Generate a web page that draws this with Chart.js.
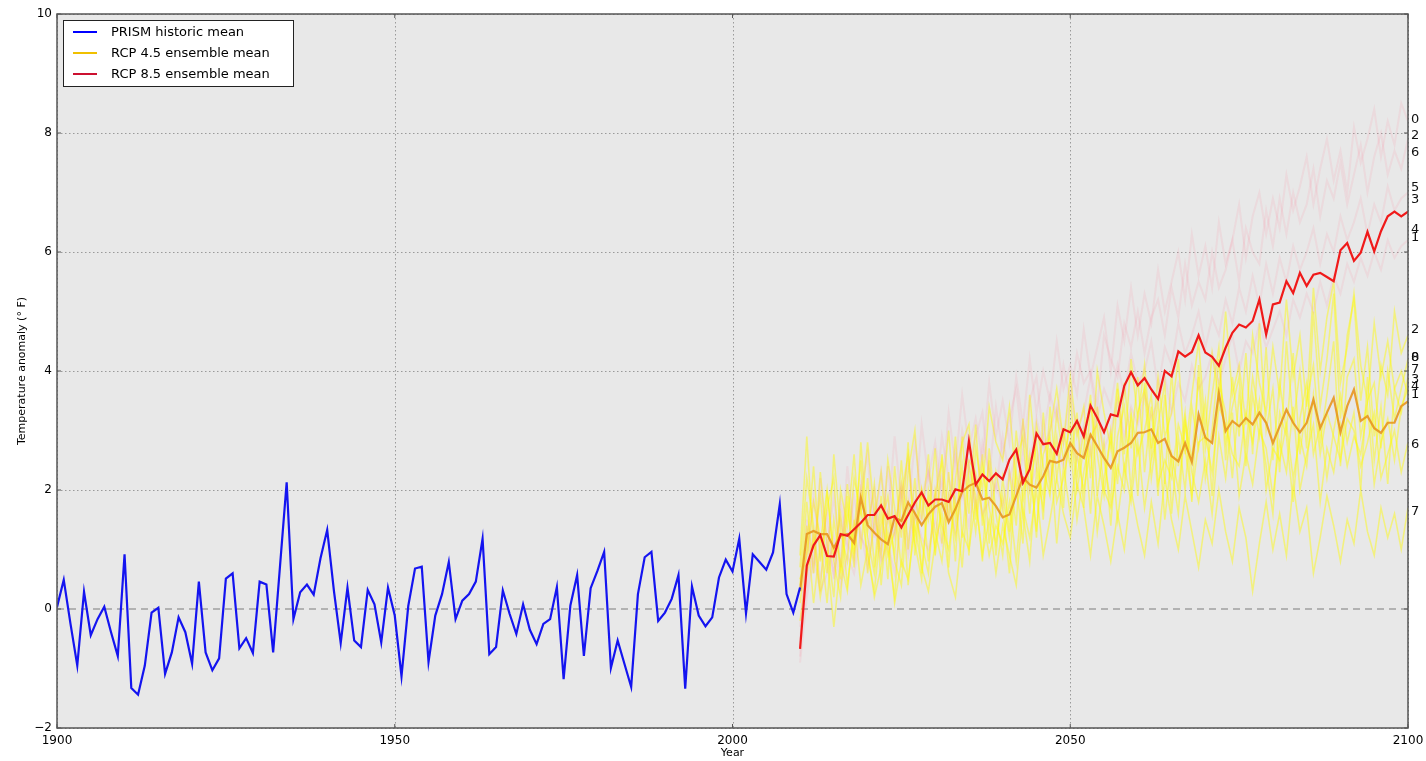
<!DOCTYPE html>
<html>
<head>
<meta charset="utf-8">
<script src="https://cdn.jsdelivr.net/npm/chart.js@4.4.0/dist/chart.umd.min.js"></script>
<style>
  html, body { margin: 0; padding: 0; background: #fff; }
  #wrap { width: 1426px; height: 761px; position: relative; }
</style>
</head>
<body>
<div id="wrap"><canvas id="chart"></canvas></div>
<script>
// ── Data ─────────────────────────────────────────────────────────
const histStart = 1900;
const projStart = 2010;

// PRISM historic mean, 1900–2010
const histMean = [
  0.03, 0.49, -0.25, -0.95, 0.29, -0.44, -0.17, 0.04, -0.39, -0.79,
  0.92, -1.33, -1.44, -0.95, -0.06, 0.02, -1.09, -0.73, -0.14, -0.39,
  -0.92, 0.46, -0.73, -1.03, -0.83, 0.51, 0.60, -0.66, -0.49, -0.74,
  0.46, 0.41, -0.73, 0.7, 2.13, -0.17, 0.28, 0.41, 0.24, 0.85,
  1.33, 0.3, -0.57, 0.36, -0.53, -0.64, 0.32, 0.08, -0.56, 0.36,
  -0.11, -1.13, 0.05, 0.68, 0.71, -0.89, -0.11, 0.25, 0.79, -0.17,
  0.14, 0.25, 0.46, 1.18, -0.76, -0.64, 0.31, -0.08, -0.42, 0.08,
  -0.35, -0.59, -0.25, -0.17, 0.37, -1.18, 0.06, 0.57, -0.79, 0.35,
  0.64, 0.96, -0.99, -0.53, -0.92, -1.31, 0.25, 0.87, 0.96, -0.2,
  -0.06, 0.17, 0.57, -1.34, 0.38, -0.11, -0.29, -0.14, 0.53, 0.83,
  0.63, 1.18, -0.07, 0.92, 0.79, 0.66, 0.95, 1.76, 0.25, -0.06, 0.36
];

// RCP 4.5 ensemble mean, 2010–2100
const rcp45Mean = [
  0.3, 1.26, 1.31, 1.26, 1.26, 1.03, 1.23, 1.26, 1.11, 1.87,
  1.41, 1.28, 1.17, 1.09, 1.54, 1.48, 1.79, 1.61, 1.41, 1.59,
  1.72, 1.78, 1.46, 1.68, 1.97, 2.07, 2.12, 1.84, 1.87, 1.73,
  1.54, 1.59, 1.9, 2.21, 2.09, 2.04, 2.23, 2.49, 2.46, 2.51,
  2.79, 2.62, 2.54, 2.93, 2.74, 2.54, 2.37, 2.65, 2.71, 2.79,
  2.96, 2.97, 3.02, 2.79, 2.86, 2.57, 2.48, 2.79, 2.47, 3.27,
  2.88, 2.79, 3.63, 2.99, 3.16, 3.07, 3.21, 3.10, 3.30, 3.13,
  2.79, 3.07, 3.35, 3.13, 2.97, 3.13, 3.52, 3.04, 3.30, 3.55,
  2.97, 3.41, 3.69, 3.16, 3.24, 3.04, 2.96, 3.13, 3.13, 3.41,
  3.49
];

// RCP 8.5 ensemble mean, 2010–2100
const rcp85Mean = [
  -0.67, 0.73, 1.07, 1.24, 0.89, 0.88, 1.26, 1.23, 1.34, 1.45,
  1.58, 1.58, 1.74, 1.52, 1.56, 1.37, 1.58, 1.79, 1.96, 1.74,
  1.84, 1.84, 1.80, 2.01, 1.98, 2.82, 2.09, 2.26, 2.15, 2.28,
  2.18, 2.51, 2.68, 2.12, 2.35, 2.95, 2.77, 2.79, 2.61, 3.02,
  2.97, 3.16, 2.9, 3.42, 3.21, 2.97, 3.27, 3.24, 3.75, 3.98,
  3.76, 3.88, 3.69, 3.53, 4.0, 3.91, 4.33, 4.24, 4.32, 4.6,
  4.31, 4.24, 4.09, 4.39, 4.64, 4.78, 4.73, 4.84, 5.2, 4.61,
  5.12, 5.15, 5.51, 5.31, 5.65, 5.43, 5.62, 5.65, 5.58, 5.51,
  6.03, 6.15, 5.85, 5.99, 6.34, 6.01, 6.35, 6.6, 6.68, 6.6,
  6.68
];

// RCP 4.5 ensemble members (faint), 2010–2100
const rcp45MemberA = [
  0.4, 1.8, 0.6, 2.3, 1.1, 0.2, 2.0, 1.4, 2.6, 1.0,
  2.2, 0.7, 1.9, 0.5, 2.4, 1.2, 2.8, 0.9, 2.0, 1.5,
  2.7, 1.1, 2.3, 0.8, 2.9, 1.6, 3.1, 1.4, 2.5, 0.9,
  2.2, 1.3, 3.0, 1.8, 2.6, 1.2, 3.3, 2.0, 2.9, 1.7,
  3.6, 2.2, 3.0, 1.6, 3.4, 2.5, 1.8, 3.7, 2.3, 3.2,
  1.9, 3.8, 2.6, 3.5, 2.1, 4.0, 2.4, 3.3, 1.8, 4.1,
  2.7, 3.6, 4.4, 2.5, 3.9, 2.9, 4.3, 2.6, 4.8, 3.0,
  3.7, 2.3, 4.5, 3.1, 4.0, 2.7, 5.0, 3.4, 4.2, 5.3,
  3.2, 4.6, 5.2, 3.5, 4.4, 2.9, 4.1, 3.6, 5.0, 4.3,
  4.6
];
const rcp45MemberB = [
  0.1, 1.0, 2.4, 0.8, 1.7, 2.2, 0.5, 1.9, 0.7, 2.8,
  1.3, 2.1, 0.4, 1.6, 0.9, 2.5, 1.0, 2.2, 0.6, 1.8,
  1.0, 2.6, 1.5, 2.9, 1.2, 2.4, 1.9, 0.8, 2.7, 1.6,
  0.9, 2.3, 1.4, 3.2, 2.0, 2.8, 1.5, 3.4, 2.2, 3.0,
  2.4, 3.3, 1.7, 3.5, 2.6, 1.9, 3.0, 2.1, 3.8, 2.7,
  3.9, 2.3, 3.4, 1.9, 3.6, 2.4, 1.6, 3.2, 2.5, 3.9,
  2.2, 3.0, 4.2, 2.8, 3.4, 3.9, 2.4, 3.6, 2.9, 4.4,
  2.5, 3.8, 3.0, 4.3, 2.6, 3.5, 4.1, 2.8, 3.6, 4.5,
  2.4, 3.9, 4.2, 2.9, 3.5, 3.8, 2.7, 4.0, 3.2, 3.7,
  4.2
];
const rcp45MemberC = [
  0.7, 2.2, 1.4, 0.3, 2.0, 0.9, 1.6, 0.4, 1.3, 2.5,
  0.6, 1.5, 2.3, 1.0, 0.2, 1.9, 2.6, 1.2, 2.0, 0.8,
  1.9, 2.5, 0.7, 2.2, 2.8, 3.1, 1.5, 2.6, 1.1, 2.3,
  1.7, 0.6, 2.5, 2.9, 1.6, 3.1, 2.4, 1.9, 3.3, 2.5,
  3.1, 2.0, 2.7, 3.6, 1.9, 2.8, 1.4, 2.9, 3.4, 2.0,
  3.3, 3.7, 2.2, 3.1, 3.8, 1.6, 2.9, 2.0, 3.4, 2.7,
  3.5, 1.9, 3.8, 3.3, 2.2, 3.6, 2.7, 3.9, 3.2, 2.4,
  1.6, 3.3, 2.9, 1.8, 3.2, 3.8, 2.6, 3.1, 2.2, 3.0,
  3.6, 2.8, 3.3, 2.0, 3.9, 2.5, 3.4, 2.1, 3.7, 3.3,
  3.9
];
const rcp45MemberD = [
  0.5, 0.9, 1.8, 1.2, 0.1, 1.5, 0.7, 2.1, 1.0, 1.7,
  0.9, 0.3, 1.4, 1.9, 0.8, 0.4, 1.8, 1.1, 0.5, 2.0,
  1.3, 0.8, 1.9, 1.2, 2.1, 2.5, 2.3, 1.6, 0.9, 1.4,
  1.1, 1.8, 0.8, 2.0, 2.4, 1.3, 2.6, 2.9, 1.8, 2.2,
  2.8, 1.5, 2.3, 2.9, 3.1, 2.0, 1.7, 2.4, 2.0, 3.3,
  2.6, 3.0, 3.6, 2.1, 2.5, 2.2, 3.1, 2.7, 1.9, 2.8,
  2.9, 2.3, 3.4, 3.1, 2.6, 2.4, 3.3, 2.8, 3.5, 2.0,
  2.7, 2.5, 3.1, 2.2, 2.9, 2.4, 3.6, 2.6, 3.3, 2.9,
  2.5, 3.2, 3.0, 2.4, 2.8, 3.3, 2.2, 2.6, 3.0, 2.3,
  2.8
];
const rcp45MemberE = [
  -0.2, 0.6, 1.2, 0.2, 0.9, -0.3, 0.8, 0.3, 1.5, 0.4,
  1.0, 0.2, 0.7, 1.3, 0.1, 0.8, 0.5, 1.4, 0.7, 0.3,
  1.1, 1.6, 0.6, 0.2, 1.3, 1.0, 1.8, 0.9, 1.5, 0.6,
  1.4, 0.9, 0.4, 1.7, 1.2, 2.0, 0.9, 1.5, 2.2, 1.6,
  1.2, 2.1, 1.7, 0.9, 1.9, 1.4, 0.8, 1.6, 1.0, 2.0,
  1.4, 0.9, 1.8, 1.1, 2.2, 1.5, 1.0, 1.9, 1.3, 0.7,
  1.5, 1.1, 2.0, 1.3, 0.8, 1.7, 1.2, 0.3, 1.1, 1.8,
  1.0, 1.6, 0.9, 2.1, 1.3, 1.7, 0.6, 1.2, 1.9, 1.4,
  0.8, 1.5, 1.1, 2.0, 1.3, 0.9, 1.7, 1.2, 1.6, 1.0,
  1.7
];
const rcp45MemberF = [
  0.9, 2.9, 1.0, 1.9, 0.6, 2.6, 1.3, 0.8, 2.2, 1.6,
  2.8, 1.6, 0.9, 2.5, 1.7, 0.7, 2.3, 3.0, 1.5, 2.6,
  0.9, 1.8, 3.0, 1.5, 2.4, 0.9, 2.7, 2.0, 3.4, 2.8,
  2.5, 3.4, 2.1, 1.1, 3.6, 2.4, 1.9, 3.0, 3.7, 2.8,
  3.9, 2.9, 3.4, 2.2, 4.0, 3.3, 2.7, 3.8, 2.6, 4.2,
  3.2, 4.1, 2.7, 3.9, 2.9, 3.3, 4.2, 2.6, 3.6, 4.5,
  3.0, 4.3, 3.5, 5.0, 3.6, 4.1, 3.1, 4.6, 3.8, 3.3,
  4.4, 3.6, 5.2, 3.9, 4.6, 3.4, 5.4, 4.0, 4.9, 5.5,
  3.8, 4.4, 5.3, 4.1, 3.5, 4.8, 3.9, 4.5, 3.7, 4.0,
  3.6
];
const rcp45MemberG = [
  0.3, 1.4, 0.1, 1.1, 2.0, 0.8, 0.2, 1.7, 0.9, 2.0,
  1.2, 0.6, 1.6, 0.9, 1.3, 2.1, 0.4, 1.6, 1.1, 0.6,
  2.0, 1.4, 1.0, 1.8, 0.7, 2.2, 1.3, 2.4, 1.7, 1.1,
  1.9, 1.2, 2.3, 1.6, 0.8, 2.3, 1.7, 2.7, 1.1, 2.4,
  1.6, 2.6, 2.0, 2.7, 1.3, 2.2, 2.9, 1.5, 2.4, 1.8,
  2.8, 1.7, 2.5, 3.0, 1.5, 2.6, 2.0, 3.1, 2.3, 1.8,
  2.5, 1.6, 2.9, 2.2, 3.3, 1.9, 2.6, 2.1, 3.0, 2.7,
  1.9, 2.8, 2.3, 3.4, 2.0, 2.6, 3.1, 1.8, 2.7, 2.3,
  3.1, 2.4, 2.9, 2.6, 3.4, 2.1, 2.8, 3.2, 2.5, 3.4,
  3.7
];

// RCP 8.5 ensemble members (faint), 2010–2100
const rcp85MemberA = [
  -0.8, 1.5, 0.6, 2.2, 1.0, 1.9, 0.7, 2.4, 1.3, 2.0,
  2.6, 1.2, 2.3, 1.5, 2.9, 1.8, 2.5, 1.6, 3.1, 2.2,
  2.8, 1.9, 3.3, 2.4, 3.6, 2.7, 3.2, 2.5, 3.8, 2.9,
  3.5, 2.8, 3.9, 3.1, 4.2, 3.3, 4.0, 3.5, 4.5, 3.7,
  4.1, 3.6, 4.7, 3.9, 4.4, 4.9, 4.0, 5.1, 4.5, 5.4,
  4.6, 5.3, 4.8, 5.7, 5.0, 5.5, 6.0, 5.2, 6.3, 5.6,
  6.1, 5.4, 6.5, 5.8, 6.2, 6.8, 5.9, 6.6, 7.0, 6.3,
  6.9, 6.4, 7.3, 6.7, 7.1, 7.6, 6.8, 7.4, 7.9, 7.2,
  7.7, 7.0, 8.1, 7.5, 7.9, 8.4, 7.6, 8.2, 7.8, 8.5,
  8.2
];
const rcp85MemberB = [
  -0.3, 0.8, 1.9, 0.9, 1.6, 0.5, 1.8, 1.1, 0.8, 2.1,
  1.4, 2.0, 1.1, 2.4, 1.3, 2.1, 1.7, 2.8, 1.9, 2.3,
  1.8, 2.9, 2.2, 1.8, 3.0, 2.4, 2.9, 3.3, 2.2, 3.4,
  2.6, 3.2, 3.7, 2.7, 3.5, 3.9, 2.9, 3.6, 3.2, 4.1,
  3.5, 4.3, 3.8, 4.0, 3.4, 4.6, 4.2, 3.9, 4.8, 4.4,
  5.0, 4.3, 4.9, 5.2, 4.6, 5.4, 4.9, 5.8, 5.1, 5.5,
  5.2, 6.0, 5.4, 5.7, 6.2, 5.5, 6.4, 6.0, 5.8, 6.7,
  6.1, 6.9, 6.3, 7.0, 6.5, 6.8, 7.4, 6.6, 7.2, 6.9,
  7.5, 6.8, 7.3, 7.8, 7.0, 7.6, 8.0, 7.3, 7.7, 7.4,
  7.9
];
const rcp85MemberC = [
  -0.5, 0.4, 1.3, 0.5, 1.1, 0.6, 1.5, 1.0, 1.9, 1.2,
  1.0, 1.7, 0.9, 1.6, 1.2, 2.0, 1.1, 1.8, 1.5, 2.3,
  1.6, 2.2, 1.5, 2.6, 1.9, 2.4, 1.7, 2.8, 2.3, 2.0,
  2.9, 2.2, 2.6, 3.1, 2.4, 3.2, 2.7, 3.0, 3.4, 2.8,
  3.6, 3.0, 3.3, 3.9, 3.2, 3.7, 3.4, 4.1, 3.6, 4.3,
  3.8, 4.0, 4.5, 3.7, 4.4, 4.1, 4.8, 4.3, 4.6, 5.0,
  4.4, 4.9, 4.6, 5.2, 4.8, 5.4, 5.0, 5.6, 5.1, 5.8,
  5.3, 5.9, 5.5, 6.1, 5.7, 6.0, 6.4, 5.8, 6.3, 6.0,
  6.6, 6.2, 6.5, 6.9, 6.3, 6.8, 6.5, 7.1, 6.7, 6.9,
  7.0
];
const rcp85MemberD = [
  -0.9, 0.2, 0.9, 0.3, 0.6, 1.2, 0.4, 0.9, 0.6, 1.3,
  0.7, 1.4, 0.8, 1.1, 0.6, 1.5, 0.9, 1.6, 1.2, 1.0,
  1.5, 1.1, 1.9, 1.3, 2.0, 1.4, 2.2, 1.6, 1.8, 2.1,
  1.7, 2.3, 1.9, 2.6, 2.0, 2.4, 2.9, 2.2, 2.7, 2.4,
  2.8, 2.5, 3.1, 2.6, 3.3, 2.7, 3.0, 3.5, 2.9, 3.4,
  3.1, 3.6, 3.2, 3.5, 3.9, 3.3, 3.8, 3.5, 4.1, 3.7,
  3.9, 4.3, 3.8, 4.2, 4.6, 4.0, 4.5, 4.3, 4.8, 4.4,
  4.7, 5.0, 4.6, 5.2, 4.9, 5.3, 5.0, 5.5, 5.1, 5.6,
  5.3, 5.8, 5.5, 5.9, 5.6, 6.0, 5.7, 6.2, 5.9, 6.1,
  6.2
];

// model index labels at the right edge, with their end values
const rcp85EndLabels = ['0', '2', '6', '5', '3', '4', '1'];
const rcp85EndValues = [8.23, 7.95, 7.67, 7.08, 6.88, 6.38, 6.24];
const rcp45EndLabels = ['2', '0', '8', '7', '3', '4', '1', '6', '7'];
const rcp45EndValues = [4.70, 4.22, 4.22, 4.03, 3.86, 3.74, 3.61, 2.76, 1.64];

// axes
const xTicks = [1900, 1950, 2000, 2050, 2100];
const yTicks = [-2, 0, 2, 4, 6, 8, 10];

const legendLabels = ['PRISM historic mean', 'RCP 4.5 ensemble mean', 'RCP 8.5 ensemble mean'];
const legendColors = ['#0000ff', '#f0c000', '#cc1030'];

// ── Build datasets ───────────────────────────────────────────────
const toPoints = (vals, start) => vals.map((v, i) => ({ x: start + i, y: v }));

const FONT = '"DejaVu Sans", "Liberation Sans", sans-serif';
const YELLOW = 'rgba(255,250,0,0.45)';
const PINK = 'rgba(255,120,150,0.13)';

const line = (data, color, width) => ({
  data, borderColor: color, borderWidth: width,
  pointRadius: 0, fill: false, tension: 0
});

// first dataset is drawn on top
const datasets = [
  line(toPoints(histMean, histStart), '#1414f0', 2.2),
  line(toPoints(rcp85Mean, projStart), '#f01a1a', 2.2),
  line(toPoints(rcp45Mean, projStart), 'rgba(232,150,30,0.9)', 2.2),
  ...[rcp85MemberA, rcp85MemberB, rcp85MemberC, rcp85MemberD]
    .map(m => line(toPoints(m, projStart), PINK, 2)),
  ...[rcp45MemberA, rcp45MemberB, rcp45MemberC, rcp45MemberD, rcp45MemberE, rcp45MemberF, rcp45MemberG]
    .map(m => line(toPoints(m, projStart), YELLOW, 1.6))
];

// ── Decorations: background, grid, frame, legend, labels ────────
const decor = {
  id: 'decor',
  beforeDatasetsDraw(chart) {
    const { ctx, chartArea: a, scales: { x, y } } = chart;
    ctx.save();
    ctx.fillStyle = '#e8e8e8';
    ctx.fillRect(a.left, a.top, a.right - a.left, a.bottom - a.top);

    ctx.strokeStyle = '#9a9a9a';
    ctx.lineWidth = 1;
    ctx.setLineDash([1.5, 2.5]);
    xTicks.forEach(t => {
      const px = Math.round(x.getPixelForValue(t)) + 0.5;
      ctx.beginPath(); ctx.moveTo(px, a.top); ctx.lineTo(px, a.bottom); ctx.stroke();
    });
    yTicks.forEach(t => {
      if (t === 0) return;
      const py = Math.round(y.getPixelForValue(t)) + 0.5;
      ctx.beginPath(); ctx.moveTo(a.left, py); ctx.lineTo(a.right, py); ctx.stroke();
    });

    // zero line
    ctx.strokeStyle = '#a0a0a0';
    ctx.lineWidth = 1.5;
    ctx.setLineDash([7, 5]);
    const y0 = y.getPixelForValue(0);
    ctx.beginPath(); ctx.moveTo(a.left, y0); ctx.lineTo(a.right, y0); ctx.stroke();
    ctx.restore();
  },
  afterDatasetsDraw(chart) {
    const { ctx, chartArea: a, scales: { x, y } } = chart;
    ctx.save();

    // frame + inward ticks
    ctx.strokeStyle = '#555';
    ctx.lineWidth = 1.5;
    ctx.strokeRect(a.left, a.top, a.right - a.left, a.bottom - a.top);
    ctx.lineWidth = 1;
    xTicks.forEach(t => {
      const px = x.getPixelForValue(t);
      ctx.beginPath();
      ctx.moveTo(px, a.bottom); ctx.lineTo(px, a.bottom - 4);
      ctx.moveTo(px, a.top); ctx.lineTo(px, a.top + 4);
      ctx.stroke();
    });
    yTicks.forEach(t => {
      const py = y.getPixelForValue(t);
      ctx.beginPath();
      ctx.moveTo(a.left, py); ctx.lineTo(a.left + 4, py);
      ctx.moveTo(a.right, py); ctx.lineTo(a.right - 4, py);
      ctx.stroke();
    });

    // legend
    const lx = a.left + 6, ly = a.top + 6;
    ctx.fillStyle = '#fff';
    ctx.fillRect(lx, ly, 230, 66);
    ctx.strokeStyle = '#222';
    ctx.lineWidth = 1;
    ctx.strokeRect(lx + 0.5, ly + 0.5, 230, 66);
    ctx.font = '13px ' + FONT;
    ctx.textBaseline = 'middle';
    ctx.textAlign = 'left';
    legendLabels.forEach((lab, i) => {
      const ry = ly + 12 + i * 21;
      ctx.strokeStyle = legendColors[i];
      ctx.lineWidth = 2;
      ctx.beginPath(); ctx.moveTo(lx + 10, ry); ctx.lineTo(lx + 34, ry); ctx.stroke();
      ctx.fillStyle = '#000';
      ctx.fillText(lab, lx + 48, ry + 1);
    });

    // model labels at right edge
    ctx.font = '13px ' + FONT;
    ctx.fillStyle = '#111';
    rcp85EndLabels.forEach((lab, i) => ctx.fillText(lab, a.right + 3, y.getPixelForValue(rcp85EndValues[i])));
    rcp45EndLabels.forEach((lab, i) => ctx.fillText(lab, a.right + 3, y.getPixelForValue(rcp45EndValues[i])));

    // axis titles
    ctx.font = '11px ' + FONT;
    ctx.fillStyle = '#000';
    ctx.textAlign = 'center';
    ctx.fillText('Year', (a.left + a.right) / 2, 753);
    ctx.translate(22, (a.top + a.bottom) / 2);
    ctx.rotate(-Math.PI / 2);
    ctx.fillText('Temperature anomaly (° F)', 0, 0);
    ctx.restore();
  }
};

new Chart(document.getElementById('chart'), {
  type: 'line',
  data: { datasets },
  options: {
    responsive: true,
    maintainAspectRatio: false,
    animation: false,
    layout: { padding: { top: 14, right: 18, left: 0, bottom: 0 } },
    plugins: { legend: { display: false }, tooltip: { enabled: false } },
    scales: {
      x: {
        type: 'linear', min: 1900, max: 2100,
        afterBuildTicks: s => { s.ticks = xTicks.map(v => ({ value: v })); },
        afterFit: s => { s.height = 33; s.paddingLeft = 0; s.paddingRight = 0; },
        ticks: {
          font: { size: 12, family: FONT }, color: '#000', padding: 6, maxRotation: 0, autoSkip: false,
          callback: v => String(v)
        },
        grid: { display: false, drawTicks: false },
        border: { display: false }
      },
      y: {
        min: -2, max: 10,
        afterBuildTicks: s => { s.ticks = yTicks.map(v => ({ value: v })); },
        afterFit: s => { s.width = 57; s.paddingTop = 0; s.paddingBottom = 0; },
        ticks: {
          font: { size: 12, family: FONT }, color: '#000', padding: 5,
          callback: v => String(v).replace('-', '\u2212')
        },
        grid: { display: false, drawTicks: false },
        border: { display: false }
      }
    }
  },
  plugins: [decor]
});
</script>
</body>
</html>
